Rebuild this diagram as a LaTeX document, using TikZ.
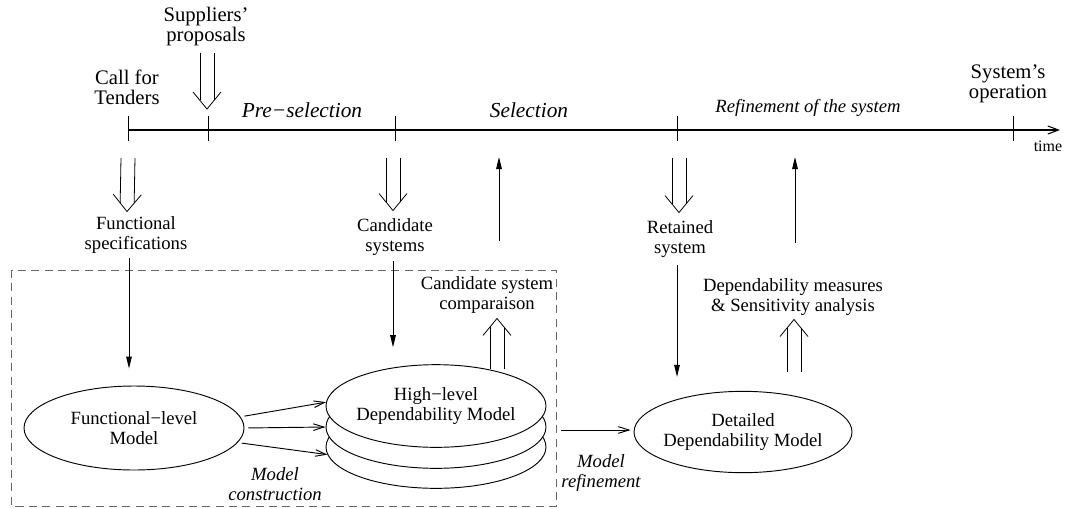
\documentclass[tikz,border=0pt]{standalone}
\usepackage{fontspec}
\setmainfont{Liberation Serif}
\usetikzlibrary{shapes.geometric,arrows.meta,calc}
\newcommand\hollowarrow[2]{%
  \coordinate (hA) at #1; \coordinate (hB) at #2;
  \coordinate (hC) at ($(hB)!12.75pt!(hA)$);
  \coordinate (hD) at ($(hB)!6.4pt!(hA)$);
  \draw[thinline] ($(hA)!5.25pt!90:(hB)$) -- ($(hD)!5.25pt!-90:(hA)$);
  \draw[thinline] ($(hA)!5.25pt!-90:(hB)$) -- ($(hD)!5.25pt!90:(hA)$);
  \draw[thinline] ($(hC)!10.5pt!90:(hB)$) -- (hB) -- ($(hC)!10.5pt!-90:(hB)$);
}
\begin{document}
\begin{tikzpicture}[x=0.75pt,y=-0.75pt,
  thinline/.style={line width=0.6pt},
  txt/.style={align=center,inner sep=0pt,font=\fontsize{14}{14.6}\selectfont},
  toptxt/.style={align=center,inner sep=0pt,font=\fontsize{15.5}{15}\selectfont},
  phase/.style={inner sep=0pt,font=\fontsize{16}{16}\selectfont\itshape},
  small phase/.style={inner sep=0pt,font=\fontsize{14}{14}\selectfont\itshape},
  ital/.style={align=center,inner sep=0pt,font=\fontsize{14}{14.6}\selectfont\itshape},
  model/.style={draw,ellipse,line width=0.7pt,fill=white,inner sep=0pt,minimum width=165pt,minimum height=62pt},
  tick/.style={line width=0.7pt},
  flow/.style={line width=0.7pt,-{Triangle[length=9pt,width=4.2pt]}},
  build/.style={line width=0.7pt,-{Straight Barb[length=8pt,width=5pt]}},
  frame/.style={draw=black!60,line width=0.7pt,dash pattern=on 6pt off 4pt}
]
\useasboundingbox (0,0) rectangle (1071,508);

% dashed frame
\draw[frame] (11.5,270) rectangle (556,506);

% timeline
\coordinate (t0) at (128,130);
\coordinate (t1) at (208,130);
\coordinate (t2) at (395,130);
\coordinate (t3) at (677,130);
\coordinate (t4) at (1013,130);
\coordinate (tend) at (1060,130);
\draw[line width=0.8pt,-{Straight Barb[length=8pt,width=6pt]}] (t0) -- (tend);
\foreach \t in {t0,t1,t2,t3,t4}
  \draw[tick] ($(\t)+(0,-14)$) -- ($(\t)+(0,11)$);

% top labels
\node[toptxt] (callfor) at (127,87) {Call for\\Tenders};
\node[toptxt] (suppliers) at (206,27) {Suppliers’\\proposals};
\node[toptxt] (sysop) at (1008,84) {System’s\\operation};
\node[phase] (presel) at (302,110) {Pre−selection};
\node[phase] (sel) at (529,110) {Selection};
\node[small phase] (refsys) at (808,108) {Refinement of the system};
\node[inner sep=0pt,font=\fontsize{12}{12}\selectfont] (time) at (1048,146) {time};

% middle labels
\node[txt] (funcspec) at (136,235) {Functional\\specifications};
\node[txt] (candsys) at (395,237) {Candidate\\systems};
\node[txt] (retained) at (680,239) {Retained\\system};
\node[txt] (compar) at (487,295) {Candidate system\\comparaison};
\node[txt] (depmeas) at (793,297) {Dependability measures\\\& Sensitivity analysis};

% models
\node[model,minimum width=165pt,minimum height=63pt,
  label={[txt]center:Functional−level\\Model}] (funcmodel) at (134,428) {};
\node[model] (hl3) at (436,447) {};
\node[model] (hl2) at (436,427) {};
\node[model,label={[txt]center:High−level\\Dependability Model}] (hl1) at (436,406) {};
\node[model,minimum width=163.5pt,minimum height=61pt,
  label={[txt]center:Detailed\\Dependability Model}] (detailed) at (743,432) {};

\node[ital] (mcons) at (275,484) {Model\\construction};
\node[ital] (mref) at (601,473) {Model\\refinement};

% hollow double arrows
\hollowarrow{($(suppliers.south)+(1,6)$)}{($(t1)+(-1,-21)$)}
\hollowarrow{($(t0)+(0,28)$)}{($(funcspec.north)+(-9,-5)$)}
\hollowarrow{($(t2)+(-2,28)$)}{($(candsys.north)+(-2,-8)$)}
\hollowarrow{($(t3)+(2,28)$)}{($(retained.north)+(-1,-8)$)}
\hollowarrow{($(hl1.north)+(61,5)$)}{($(compar.south)+(10,5)$)}
\hollowarrow{($(detailed.north)+(51,-19)$)}{($(depmeas.south)+(1,4)$)}

% single arrows
\draw[flow] ($(funcspec.south)+(-7,5)$) -- ($(funcmodel.north)+(-5,-17)$);
\draw[flow] ($(candsys.south)+(-2,6)$) -- ($(hl1.north)+(-43,-17)$);
\draw[flow] ($(retained.south)+(-3,8)$) -- ($(detailed.north)+(-66,-14)$);
\coordinate (selup) at (499,157);
\coordinate (refup) at (795,157);
\draw[flow] ($(compar.north)+(12,-36)$) -- (selup);
\draw[flow] ($(depmeas.north)+(2,-36)$) -- (refup);

% construction arrows
\draw[build,shorten <=3pt] (funcmodel.6) -- (hl1.178);
\draw[build,shorten <=3pt] (funcmodel.0) -- (hl2.180);
\draw[build,shorten <=3pt] (funcmodel.-8) -- (hl3.184);

% refinement arrow
\draw[build] ($(hl2.east)+(15,3)$) -- ($(detailed.west)+(-3,-2)$);
\end{tikzpicture}
\end{document}
